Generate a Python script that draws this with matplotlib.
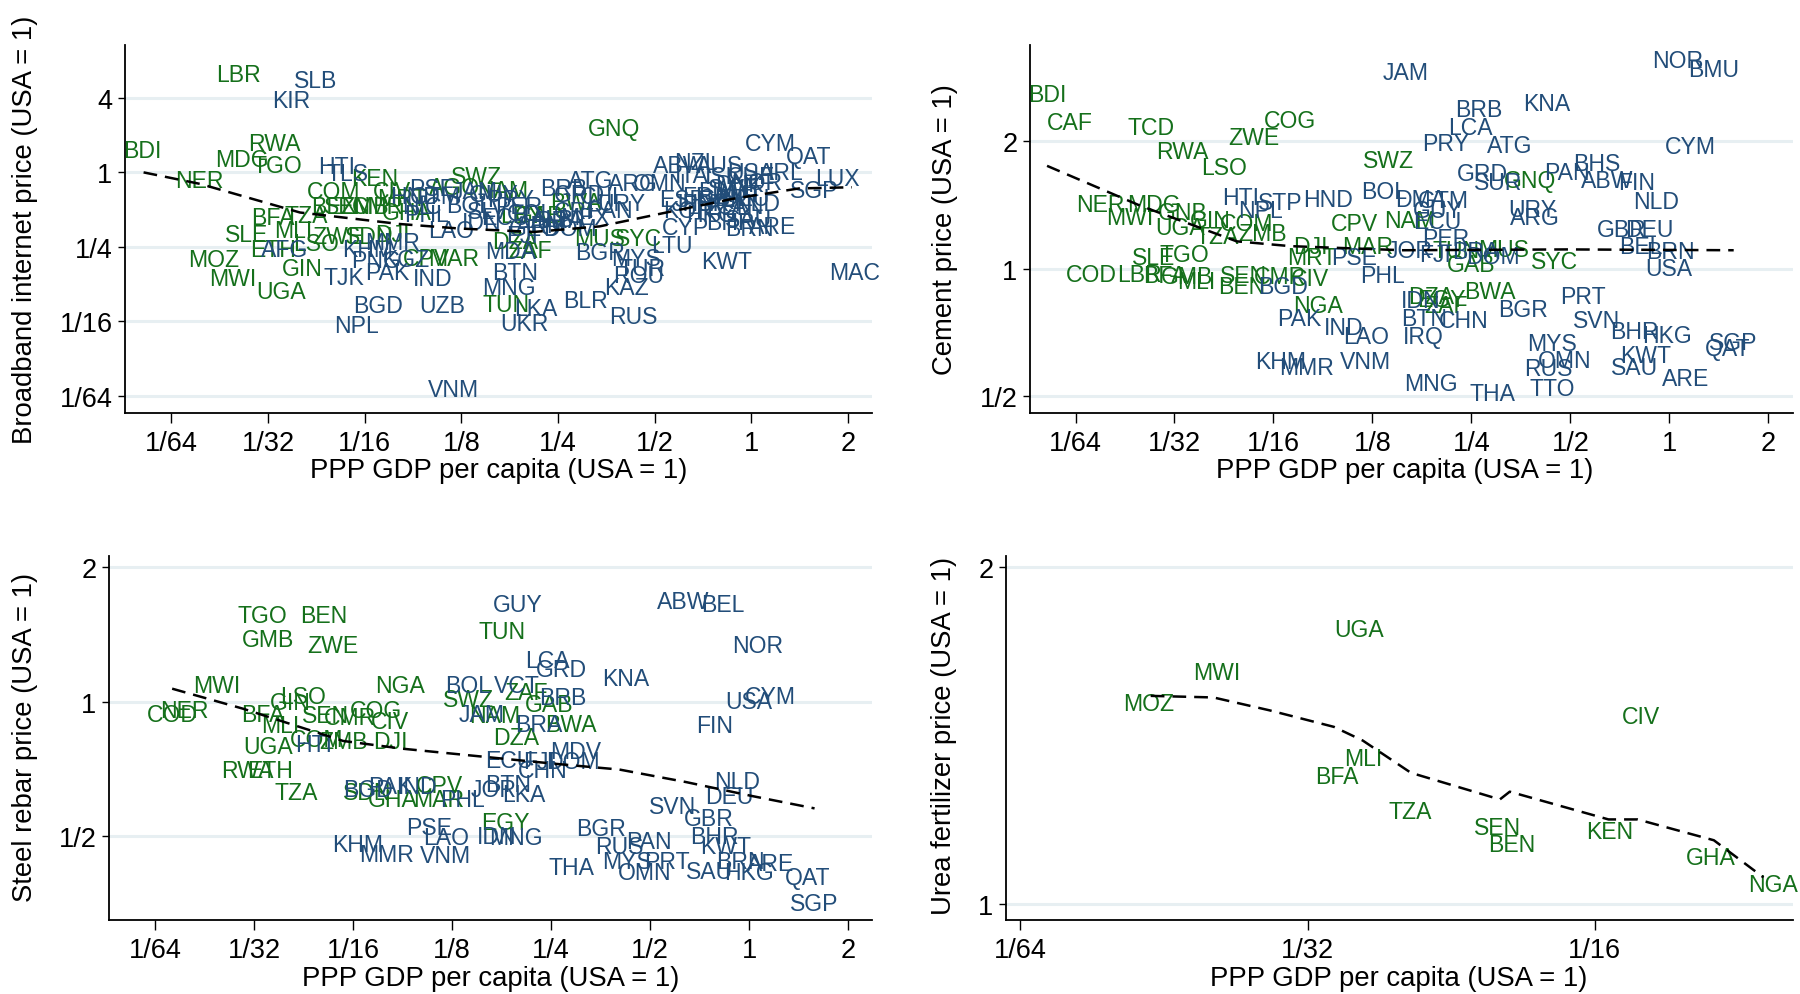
import matplotlib
matplotlib.use('Agg')
import matplotlib.pyplot as plt
from matplotlib.ticker import FixedLocator, FixedFormatter, NullLocator

plt.rcParams['font.family'] = ['Liberation Sans', 'DejaVu Sans']

# ---------------- Panel 1: broadband internet ----------------
bb_codes = ['LBR','BDI','RWA','MDG','TGO','NER','COM','KEN','SWZ','AGO','NAM','BFA','TZA','MLI','SLE','ETH',
            'LSO','MOZ','MWI','GIN','UGA','ZWE','SDN','DJI','BEN','SEN','ZMB','CIV','MRT','GHA','CMR','CPV',
            'MAR','TUN','DZA','ZAF','GNQ','BWA','GAB','LBY','MUS','SYC',
            'SLB','KIR','HTI','TLS','AFG','KHM','MMR','PNG','KGZ','PAK','TJK','IND','BGD','UZB','NPL','VNM',
            'LAO','PSE','HND','NIC','GTM','PHL','BOL','JAM','GUY','SLV','PRY','PER','ECU','COL','IDN','MDA',
            'ARM','GEO','ALB','FJI','MNG','BTN','UKR','LKA','BRB','GRD','ATG','ARG','OMN','CHL','URY','PAN',
            'CRI','MEX','BRA','DOM','TUR','ROU','LTU','BGR','MYS','KAZ','BLR','RUS','KWT','MAC','CYP','SAU',
            'BRN','ARE','BHR','HKG','ABW','NZL','AUS','ITA','ISL','IRL','CHE','NOR','DNK','SWE','FIN','FRA',
            'GBR','JPN','ESP','KOR','ISR','DEU','AUT','BEL','NLD','CAN','USA','CYM','QAT','LUX','SGP']
bb_gdp = [0.0252,0.0127,0.0328,0.0259,0.0335,0.0191,0.0501,0.0670,0.139,0.119,0.168,0.0324,0.0412,0.0374,0.0268,0.0324,
          0.0442,0.0212,0.0242,0.0401,0.0344,0.0515,0.0647,0.0764,0.0506,0.0553,0.0625,0.0758,0.0813,0.0848,0.0690,0.0975,
          0.118,0.172,0.184,0.205,0.373,0.285,0.219,0.193,0.337,0.447,
          0.0440,0.0370,0.0511,0.0553,0.0352,0.0638,0.0764,0.0680,0.0842,0.0733,0.0540,0.102,0.0686,0.109,0.0591,0.118,
          0.116,0.1017,0.0899,0.0944,0.104,0.0976,0.132,0.138,0.158,0.151,0.178,0.189,0.171,0.205,0.145,0.178,
          0.222,0.211,0.241,0.193,0.176,0.184,0.196,0.213,0.260,0.292,0.316,0.429,0.518,0.346,0.395,0.364,
          0.279,0.304,0.253,0.273,0.458,0.447,0.567,0.338,0.439,0.408,0.304,0.429,0.841,2.096,0.626,0.984,
          0.984,1.169,0.862,0.750,0.596,0.674,0.794,0.652,0.814,1.280,1.0,1.042,0.921,0.884,0.781,0.720,
          0.814,0.663,0.610,0.636,0.750,0.960,0.921,0.848,1.042,0.921,1.0,1.150,1.508,1.853,1.572]
bb_price = [6.13,1.50,1.70,1.26,1.14,0.862,0.696,0.899,0.918,0.758,0.711,0.435,0.445,0.337,0.316,0.240,
            0.266,0.198,0.138,0.167,0.109,0.303,0.303,0.316,0.527,0.527,0.527,0.696,0.612,0.474,0.527,0.202,
            0.202,0.0861,0.278,0.235,2.25,0.574,0.445,0.445,0.29,0.29,
            5.5,3.83,1.11,0.98,0.240,0.240,0.272,0.194,0.198,0.156,0.141,0.138,0.084,0.084,0.0574,0.0177,
            0.337,0.742,0.639,0.527,0.639,0.454,0.539,0.696,0.667,0.484,0.600,0.527,0.435,0.464,0.391,0.229,
            0.375,0.352,0.417,0.310,0.118,0.156,0.0598,0.0790,0.742,0.667,0.861,0.808,0.808,0.639,0.563,0.495,
            0.484,0.435,0.408,0.352,0.167,0.147,0.255,0.224,0.202,0.118,0.0916,0.0681,0.189,0.156,0.359,0.417,
            0.352,0.367,0.391,0.454,1.137,1.212,1.137,0.938,0.918,1.0,0.918,0.825,0.791,0.742,0.696,0.639,
            0.612,0.563,0.600,0.495,0.563,0.612,0.667,0.516,0.563,0.527,1.0,1.704,1.348,0.899,0.711]
bb_africa = [1]*42 + [0]*(len(bb_codes) - 42)
bb_fit_gdp = [0.0128,0.0192,0.0393,0.080,0.123,0.210,0.337,0.544,0.877,1.41,2.06]
bb_fit_price = [1.0,0.807,0.474,0.383,0.352,0.330,0.366,0.474,0.612,0.742,0.758]

# ---------------- Panel 2: cement ----------------
ce_codes = ['BDI','CAF','TCD','COG','ZWE','RWA','LSO','NER','MDG','MWI','GNB','UGA','GIN','COM','TZA','ZMB',
            'CPV','DJI','MAR','MRT','SLE','TGO','COD','LBR','BFA','GMB','MLI','SEN','BEN','CMR','CIV','NGA',
            'SWZ','GNQ','NAM','TUN','MUS','SYC','GAB','DZA','EGY','ZAF','BWA',
            'HTI','NPL','STP','HND','PSE','BGD','PAK','IND','PHL','JAM','NOR','BMU','BRB','KNA','LCA','PRY',
            'ATG','CYM','GRD','SUR','PAN','BHS','ABW','FIN','NLD','BOL','DMA','GTM','GUY','ECU','URY','ARG',
            'GBR','DEU','PER','BEL','BRN','USA','JOR','FJI','BRA','DOM','IDN','BTN','CHN','BGR','PRT','SVN',
            'BHR','HKG','SGP','QAT','IRQ','LAO','MYS','OMN','RUS','KWT','SAU','ARE','TTO','THA','MNG','VNM',
            'KHM','MMR']
ce_gdp = [0.0128,0.0150,0.0265,0.0703,0.0544,0.0331,0.0442,0.0186,0.0270,0.0229,0.0331,0.0326,0.0401,0.0518,0.0421,0.0580,
          0.110,0.0807,0.121,0.0819,0.0270,0.0335,0.0175,0.0245,0.0293,0.0342,0.0364,0.0507,0.0501,0.0656,0.0807,0.0854,
          0.140,0.378,0.162,0.224,0.314,0.447,0.249,0.189,0.202,0.210,0.285,
          0.0495,0.0571,0.0656,0.0916,0.110,0.0670,0.0750,0.102,0.134,0.158,1.06,1.36,0.263,0.423,0.249,0.209,
          0.327,1.16,0.270,0.302,0.489,0.603,0.647,0.798,0.915,0.136,0.175,0.205,0.197,0.197,0.384,0.390,
          0.719,0.872,0.209,0.818,1.01,1.0,0.162,0.194,0.257,0.290,0.175,0.179,0.237,0.358,0.547,0.603,
          0.786,0.984,1.57,1.50,0.179,0.120,0.441,0.481,0.429,0.845,0.786,1.12,0.441,0.290,0.188,0.119,
          0.0656,0.0786]
ce_price = [2.58,2.22,2.16,2.24,2.04,1.89,1.73,1.42,1.42,1.32,1.36,1.25,1.30,1.28,1.19,1.21,
            1.28,1.13,1.13,1.06,1.06,1.08,0.969,0.969,0.963,0.957,0.934,0.963,0.905,0.957,0.945,0.819,
            1.80,1.62,1.30,1.105,1.11,1.04,1.02,0.861,0.845,0.819,0.883,
            1.47,1.37,1.43,1.46,1.06,0.905,0.760,0.727,0.963,2.91,3.10,2.95,2.38,2.46,2.16,1.98,
            1.95,1.94,1.68,1.60,1.69,1.77,1.62,1.60,1.44,1.52,1.46,1.45,1.37,1.29,1.38,1.32,
            1.24,1.24,1.18,1.13,1.10,1.0,1.105,1.08,1.10,1.07,0.840,0.760,0.755,0.799,0.861,0.755,
            0.709,0.696,0.670,0.646,0.692,0.692,0.666,0.607,0.581,0.622,0.584,0.549,0.519,0.506,0.535,0.603,
            0.603,0.584]
ce_africa = [1]*43 + [0]*(len(ce_codes) - 43)
ce_fit_gdp = [0.0128,0.0245,0.0483,0.0703,0.155,0.489,1.57]
ce_fit_price = [1.75,1.41,1.16,1.13,1.105,1.11,1.105]

# ---------------- Panel 3: steel rebar ----------------
st_codes = ['TGO','BEN','GMB','ZWE','MWI','NER','COD','LSO','GIN','BFA','SEN','CMR','COG','CIV','MLI','NGA',
            'COM','ZMB','DJI','UGA','RWA','ETH','TZA','SDN','CPV','GHA','MAR','SWZ','TUN','ZAF','GAB','NAM',
            'BWA','DZA','EGY',
            'HTI','BGD','PAK','IND','PHL','BOL','KHM','MMR','PSE','LAO','VNM','GUY','ABW','BEL','NOR','LCA',
            'GRD','KNA','VCT','BRB','JAM','BRA','MDV','DOM','ECU','FJI','CHN','JOR','BTN','LKA','IDN','MNG',
            'BGR','THA','RUS','PAN','MYS','PRT','OMN','SVN','GBR','NLD','DEU','BHR','KWT','SAU','HKG','BRN',
            'ARE','QAT','SGP','FIN','USA','CYM']
st_gdp = [0.0332,0.0508,0.0345,0.0542,0.0240,0.0192,0.0176,0.0440,0.0402,0.0332,0.0515,0.0611,0.0735,0.0809,0.0374,0.0866,
          0.0484,0.0583,0.0809,0.0345,0.0299,0.0349,0.0419,0.0689,0.114,0.0824,0.114,0.140,0.177,0.210,0.247,0.168,
          0.288,0.196,0.182,
          0.0473,0.0695,0.0809,0.0982,0.134,0.140,0.0647,0.0790,0.106,0.120,0.119,0.198,0.628,0.831,1.06,0.243,
          0.268,0.420,0.196,0.272,0.154,0.230,0.297,0.291,0.187,0.230,0.235,0.167,0.185,0.207,0.171,0.196,
          0.355,0.288,0.403,0.497,0.424,0.561,0.482,0.584,0.755,0.916,0.872,0.786,0.845,0.755,1.0,0.938,
          1.16,1.51,1.58,0.786,1.0,1.16]
st_price = [1.56,1.56,1.38,1.34,1.09,0.954,0.937,1.03,0.994,0.937,0.931,0.920,0.954,0.904,0.883,1.09,
            0.822,0.813,0.813,0.794,0.701,0.701,0.626,0.626,0.649,0.604,0.604,1.01,1.44,1.05,0.988,0.931,
            0.888,0.832,0.537,
            0.803,0.637,0.645,0.645,0.604,1.09,0.480,0.454,0.524,0.497,0.452,1.65,1.68,1.65,1.34,1.24,
            1.18,1.13,1.09,1.02,0.937,0.888,0.775,0.735,0.739,0.735,0.701,0.637,0.653,0.619,0.50,0.497,
            0.521,0.426,0.474,0.486,0.439,0.439,0.414,0.583,0.549,0.664,0.612,0.50,0.474,0.416,0.414,0.439,
            0.434,0.404,0.353,0.883,1.0,1.03]
st_africa = [1]*35 + [0]*(len(st_codes) - 35)
st_fit_gdp = [0.0176,0.0289,0.0583,0.0884,0.159,0.253,0.403,0.642,1.02,1.58]
st_fit_price = [1.07,0.965,0.817,0.785,0.752,0.727,0.705,0.661,0.615,0.577]

# ---------------- Panel 4: urea fertilizer ----------------
ur_codes = ['UGA','MWI','MOZ','CIV','MLI','BFA','TZA','SEN','BEN','KEN','GHA','NGA']
ur_gdp = [0.0354,0.0251,0.0213,0.0698,0.0357,0.0335,0.0400,0.0494,0.0512,0.0648,0.0826,0.0962]
ur_price = [1.76,1.61,1.51,1.47,1.35,1.30,1.21,1.17,1.13,1.16,1.10,1.04]
ur_africa = [1]*len(ur_codes)
ur_fit_gdp = [0.0214,0.0249,0.0285,0.0333,0.0357,0.0401,0.0497,0.0509,0.0646,0.0693,0.0833,0.0939]
ur_fit_price = [1.535,1.53,1.49,1.44,1.40,1.31,1.24,1.26,1.19,1.19,1.14,1.056]

x_ticks_full = [1/64, 1/32, 1/16, 1/8, 1/4, 1/2, 1, 2]
x_labels_full = ['1/64', '1/32', '1/16', '1/8', '1/4', '1/2', '1', '2']

GREEN = '#15701b'
BLUE = '#224d79'
GRID = '#e7eff2'
W, H = 1800, 995

fig = plt.figure(figsize=(W / 100, H / 100), dpi=100)


def make_axes(l, t, r, b):
    return fig.add_axes([l / W, 1 - b / H, (r - l) / W, (b - t) / H])


def draw(ax, codes, gdp, price, africa, fx, fy, xlim, ylim, xt, xtl, yt, ytl):
    ax.set_xscale('log', base=2)
    ax.set_yscale('log', base=2)
    ax.set_xlim(2 ** xlim[0], 2 ** xlim[1])
    ax.set_ylim(2 ** ylim[0], 2 ** ylim[1])
    for v in yt:
        ax.axhline(v, color=GRID, lw=2.2, zorder=0)
    for c, x, y, a in zip(codes, gdp, price, africa):
        ax.text(x, y, c, color=GREEN if a else BLUE, ha='center', va='center',
                fontsize=16.6, zorder=3, clip_on=False)
    ax.plot(fx, fy, color='black', lw=1.8, ls=(0, (5.5, 3.2)), zorder=4)
    ax.xaxis.set_major_locator(FixedLocator(xt))
    ax.xaxis.set_major_formatter(FixedFormatter(xtl))
    ax.xaxis.set_minor_locator(NullLocator())
    ax.yaxis.set_major_locator(FixedLocator(yt))
    ax.yaxis.set_major_formatter(FixedFormatter(ytl))
    ax.yaxis.set_minor_locator(NullLocator())
    ax.tick_params(axis='x', length=7.5, width=1.0, pad=5, labelsize=19.5)
    ax.tick_params(axis='y', length=5, width=1.0, pad=4, labelsize=19.5)
    for s in ['top', 'right']:
        ax.spines[s].set_visible(False)
    for s in ['left', 'bottom']:
        ax.spines[s].set_linewidth(1.3)


ax1 = make_axes(125, 46, 872, 414)
draw(ax1, bb_codes, bb_gdp, bb_price, bb_africa, bb_fit_gdp, bb_fit_price,
     (-6.48, 1.25), (-6.46, 3.42), x_ticks_full, x_labels_full,
     [1/64, 1/16, 1/4, 1, 4], ['1/64', '1/16', '1/4', '1', '4'])

ax2 = make_axes(1030, 46, 1793, 414)
draw(ax2, ce_codes, ce_gdp, ce_price, ce_africa, ce_fit_gdp, ce_fit_price,
     (-6.46, 1.25), (-1.135, 1.757), x_ticks_full, x_labels_full,
     [1/2, 1, 2], ['1/2', '1', '2'])

ax3 = make_axes(109, 557, 872, 921)
draw(ax3, st_codes, st_gdp, st_price, st_africa, st_fit_gdp, st_fit_price,
     (-6.466, 1.24), (-1.624, 1.085), x_ticks_full, x_labels_full,
     [1/2, 1, 2], ['1/2', '1', '2'])

ax4 = make_axes(1006, 557, 1793, 921)
draw(ax4, ur_codes, ur_gdp, ur_price, ur_africa, ur_fit_gdp, ur_fit_price,
     (-6.05, -3.31), (-0.048, 1.034), [1/64, 1/32, 1/16], ['1/64', '1/32', '1/16'],
     [1, 2], ['1', '2'])

TF = 19.8
xl = 'PPP GDP per capita (USA = 1)'
fig.text(499 / W, 1 - 471 / H, xl, ha='center', va='center', fontsize=TF)
fig.text(1405 / W, 1 - 471 / H, xl, ha='center', va='center', fontsize=TF)
fig.text(491 / W, 1 - 979 / H, xl, ha='center', va='center', fontsize=TF)
fig.text(1399 / W, 1 - 979 / H, xl, ha='center', va='center', fontsize=TF)

fig.text(25 / W, 1 - 230 / H, 'Broadband internet price (USA = 1)', rotation=90,
         ha='center', va='center', fontsize=TF)
fig.text(945 / W, 1 - 230 / H, 'Cement price (USA = 1)', rotation=90,
         ha='center', va='center', fontsize=TF)
fig.text(25 / W, 1 - 737 / H, 'Steel rebar price (USA = 1)', rotation=90,
         ha='center', va='center', fontsize=TF)
fig.text(944 / W, 1 - 736 / H, 'Urea fertilizer price (USA = 1)', rotation=90,
         ha='center', va='center', fontsize=TF)

fig.savefig('out.png', dpi=100, facecolor='white')
